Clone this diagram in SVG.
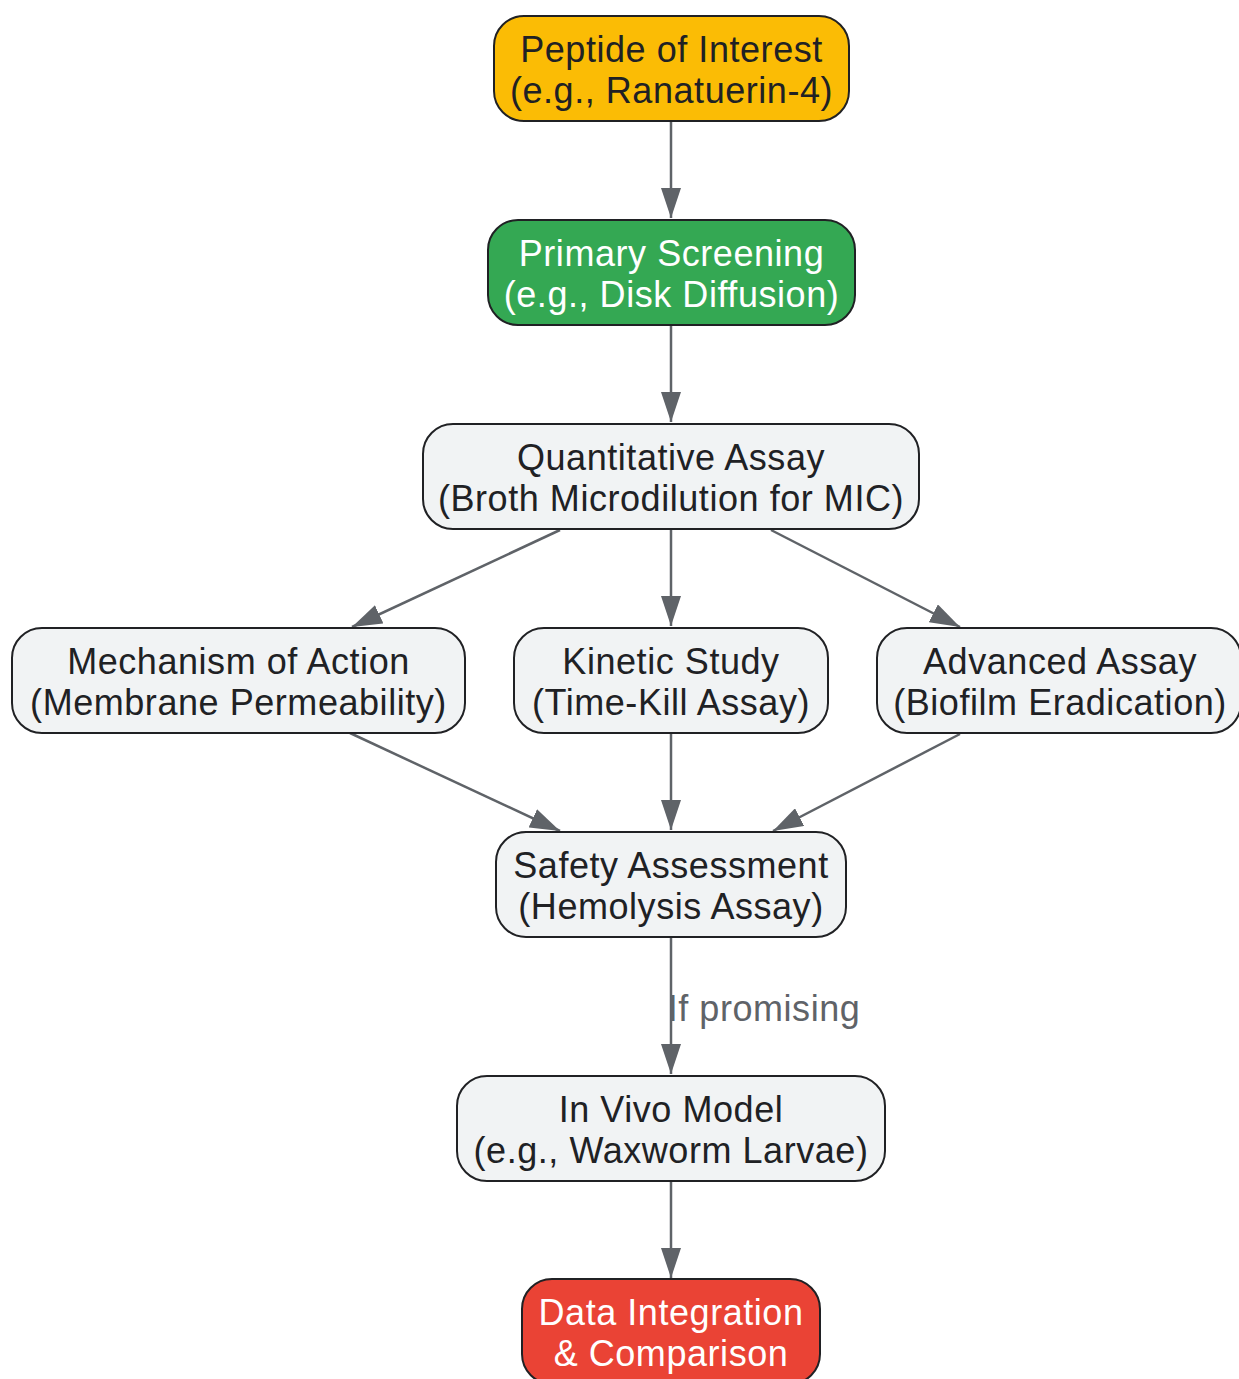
<svg xmlns="http://www.w3.org/2000/svg" width="1239" height="1379" viewBox="0 0 1239 1379">
<style>
.node rect{stroke:#202124;stroke-width:2}
.light rect{fill:#F1F3F4}
.node text{font-family:"Liberation Sans",Arial,sans-serif;font-size:36px;letter-spacing:0.55px;text-anchor:middle;fill:#202124}
.white text{fill:#ffffff}
.edge{stroke:#5f6368;stroke-width:2.5;fill:none;marker-end:url(#arrow)}
.elabel{font-family:"Liberation Sans",Arial,sans-serif;font-size:36px;letter-spacing:0.55px;fill:#5f6368;text-anchor:middle}
</style>
<defs>
<marker id="arrow" markerUnits="userSpaceOnUse" markerWidth="30" markerHeight="20" refX="30" refY="10" orient="auto">
<path d="M0,0 L30,10 L0,20 z" fill="#5f6368"/>
</marker>
</defs>
<rect width="1239" height="1379" fill="#ffffff"/>
<g id="edges">
<line class="edge" x1="671" y1="121" x2="671" y2="218"/>
<line class="edge" x1="671" y1="325" x2="671" y2="422"/>
<line class="edge" x1="560" y1="530" x2="352" y2="627"/>
<line class="edge" x1="671" y1="529" x2="671" y2="626"/>
<line class="edge" x1="771" y1="530" x2="960" y2="627"/>
<line class="edge" x1="350" y1="733" x2="560" y2="831"/>
<line class="edge" x1="671" y1="733" x2="671" y2="830"/>
<line class="edge" x1="960" y1="734" x2="773" y2="831"/>
<line class="edge" x1="671" y1="937" x2="671" y2="1074"/>
<line class="edge" x1="671" y1="1181" x2="671" y2="1278"/>
<text class="elabel" x="764" y="1021">If promising</text>
</g>
<g id="n1" class="node"><rect x="494" y="16" width="355" height="105" rx="30" fill="#FBBC05"/><text x="671.5" y="62">Peptide of Interest</text><text x="671.5" y="103">(e.g., Ranatuerin-4)</text></g>
<g id="n2" class="node white"><rect x="488" y="220" width="367" height="105" rx="30" fill="#34A853"/><text x="671.5" y="266">Primary Screening</text><text x="671.5" y="307">(e.g., Disk Diffusion)</text></g>
<g id="n3" class="node light"><rect x="423" y="424" width="496" height="105" rx="30"/><text x="671" y="470">Quantitative Assay</text><text x="671" y="511">(Broth Microdilution for MIC)</text></g>
<g id="n4" class="node light"><rect x="12" y="628" width="453" height="105" rx="30"/><text x="238.5" y="674">Mechanism of Action</text><text x="238.5" y="715">(Membrane Permeability)</text></g>
<g id="n5" class="node light"><rect x="514" y="628" width="314" height="105" rx="30"/><text x="671" y="674">Kinetic Study</text><text x="671" y="715">(Time-Kill Assay)</text></g>
<g id="n6" class="node light"><rect x="877" y="628" width="364" height="105" rx="30"/><text x="1060" y="674">Advanced Assay</text><text x="1060" y="715">(Biofilm Eradication)</text></g>
<g id="n7" class="node light"><rect x="496" y="832" width="350" height="105" rx="30"/><text x="671" y="878">Safety Assessment</text><text x="671" y="919">(Hemolysis Assay)</text></g>
<g id="n8" class="node light"><rect x="457" y="1076" width="428" height="105" rx="30"/><text x="671" y="1122">In Vivo Model</text><text x="671" y="1163">(e.g., Waxworm Larvae)</text></g>
<g id="n9" class="node white"><rect x="522" y="1279" width="298" height="105" rx="30" fill="#EA4335"/><text x="671" y="1325">Data Integration</text><text x="671" y="1366">&amp; Comparison</text></g>
</svg>
